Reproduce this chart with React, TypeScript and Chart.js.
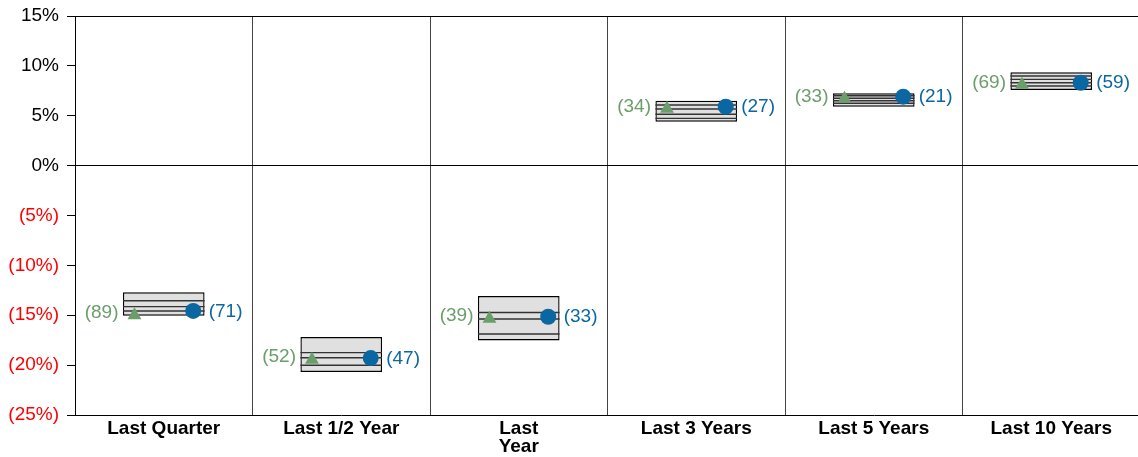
import React, { useEffect, useRef } from "react";
import { Chart, registerables } from "chart.js";

Chart.register(...registerables);

const categories: (string | string[])[] = [
  "Last Quarter",
  "Last 1/2 Year",
  ["Last", "Year"],
  "Last 3 Years",
  "Last 5 Years",
  "Last 10 Years",
];

const boxLow = [-15.05, -20.69, -17.53, 4.4, 5.91, 7.58];
const boxHigh = [-12.7, -17.18, -13.07, 6.51, 7.25, 9.36];
const lineA = [-13.54, -18.75, -14.72, 6.08, 7.01, 8.98];
const lineB = [-14.14, -19.26, -15.37, 5.68, 6.75, 8.65];
const lineC = [-14.57, -20.02, -16.88, 5.15, 6.51, 8.31];
const lineD = [null, null, null, 4.74, 6.25, 7.98];

const triangleValues = [-15.0, -19.45, -15.35, 5.7, 6.7, 8.1];
const circleValues = [-14.57, -19.29, -15.15, 5.91, 6.91, 8.31];
const triangleCounts = [89, 52, 39, 34, 33, 69];
const circleCounts = [71, 47, 33, 27, 21, 59];

const yTicks = [-25, -20, -15, -10, -5, 0, 5, 10, 15];

const GREEN = "#6a9e6a";
const BLUE = "#0b67a2";
const FONT = "'Liberation Sans', Arial, Helvetica, sans-serif";
const BAR_PCT = 0.46;

export default function App() {
  const canvasRef = useRef<HTMLCanvasElement | null>(null);

  useEffect(() => {
    if (!canvasRef.current) return;

    const lineSets = [lineA, lineB, lineC, lineD].map((arr) => ({
      type: "scatter" as const,
      xAxisID: "x2",
      data: arr
        .map((v, i) => (v === null ? null : { x: i, y: v }))
        .filter((p) => p !== null),
      pointStyle: "line",
      pointRadius: 40.8,
      pointHoverRadius: 40.8,
      pointBorderWidth: 1.4,
      pointBorderColor: "#333",
      pointBackgroundColor: "#333",
      order: 5,
    }));

    const valueLabels = {
      id: "valueLabels",
      afterDatasetsDraw(chart: any) {
        const ctx = chart.ctx;
        ctx.save();
        ctx.font = `19px ${FONT}`;
        ctx.textBaseline = "middle";
        const triMeta = chart.getDatasetMeta(chart.data.datasets.length - 2);
        const cirMeta = chart.getDatasetMeta(chart.data.datasets.length - 1);
        triMeta.data.forEach((el: any, i: number) => {
          ctx.fillStyle = GREEN;
          ctx.textAlign = "right";
          ctx.fillText(`(${triangleCounts[i]})`, el.x - 16, el.y - 2.5);
        });
        cirMeta.data.forEach((el: any, i: number) => {
          ctx.fillStyle = BLUE;
          ctx.textAlign = "left";
          ctx.fillText(`(${circleCounts[i]})`, el.x + 15.5, el.y + 0.5);
        });
        ctx.restore();
      },
    };

    const chart = new Chart(canvasRef.current, {
      type: "bar",
      data: {
        labels: categories as any,
        datasets: [
          {
            type: "bar",
            data: boxLow.map((l, i) => [l, boxHigh[i]]) as any,
            backgroundColor: "#e0e0e0",
            borderColor: "#000",
            borderWidth: 1.4,
            borderSkipped: false,
            barPercentage: BAR_PCT,
            categoryPercentage: 1,
            grouped: false,
            xAxisID: "x",
            order: 10,
          } as any,
          ...(lineSets as any[]),
          {
            type: "scatter",
            xAxisID: "x2",
            data: triangleValues.map((v, i) => ({ x: i - 0.165, y: v })),
            pointStyle: "triangle",
            pointRadius: 8,
            pointBackgroundColor: GREEN,
            pointBorderColor: GREEN,
            pointBorderWidth: 0,
            order: 1,
          } as any,
          {
            type: "scatter",
            xAxisID: "x2",
            data: circleValues.map((v, i) => ({ x: i + 0.166, y: v })),
            pointStyle: "circle",
            pointRadius: 8,
            pointBackgroundColor: BLUE,
            pointBorderColor: BLUE,
            pointBorderWidth: 0,
            order: 0,
          } as any,
        ],
      },
      options: {
        responsive: true,
        maintainAspectRatio: false,
        animation: false,
        layout: { autoPadding: false, padding: { top: 16, right: 1, bottom: 0, left: 0 } },
        plugins: {
          legend: { display: false },
          tooltip: { enabled: false },
        },
        scales: {
          x: {
            type: "category",
            offset: true,
            grid: {
              offset: true,
              color: "#444",
              lineWidth: 1,
              drawTicks: false,
            },
            border: { display: true, color: "#000", width: 1 },
            ticks: {
              color: "#000",
              padding: 5,
              maxRotation: 0,
              autoSkip: false,
              font: { family: FONT, size: 19, weight: "bold", lineHeight: 0.95 },
            },
            afterFit: (scale: any) => {
              scale.height = 42;
            },
          },
          x2: {
            type: "linear",
            display: false,
            offset: false,
            grid: { offset: false },
            min: -0.5,
            max: 5.5,
          },
          y: {
            type: "linear",
            min: -25,
            max: 15,
            afterBuildTicks: (scale: any) => {
              scale.ticks = yTicks.map((v) => ({ value: v }));
            },
            grid: {
              color: (ctx: any) =>
                ctx.tick && (ctx.tick.value === 0 || ctx.tick.value === 15)
                  ? "#000"
                  : "rgba(0,0,0,0)",
              tickColor: "#000",
              tickLength: 8,
              lineWidth: 1,
            },
            border: { display: true, color: "#000", width: 1 },
            ticks: {
              padding: 8,
              color: (ctx: any) => (ctx.tick && ctx.tick.value < 0 ? "#ff0000" : "#000"),
              font: { family: FONT, size: 19 },
              callback: (value: any) => {
                const v = Number(value);
                return v < 0 ? `(${Math.abs(v)}%)` : `${v}%`;
              },
            },
            afterFit: (scale: any) => {
              scale.width = 75;
              scale.paddingTop = 0;
              scale.paddingBottom = 0;
            },
          },
        },
      } as any,
      plugins: [valueLabels],
    });

    return () => chart.destroy();
  }, []);

  return (
    <div
      style={{
        position: "fixed",
        left: 0,
        top: 0,
        width: 1138,
        height: 457,
        overflow: "hidden",
        background: "#fff",
      }}
    >
      <div style={{ position: "relative", width: 1141, height: 457 }}>
        <canvas ref={canvasRef} />
      </div>
    </div>
  );
}
